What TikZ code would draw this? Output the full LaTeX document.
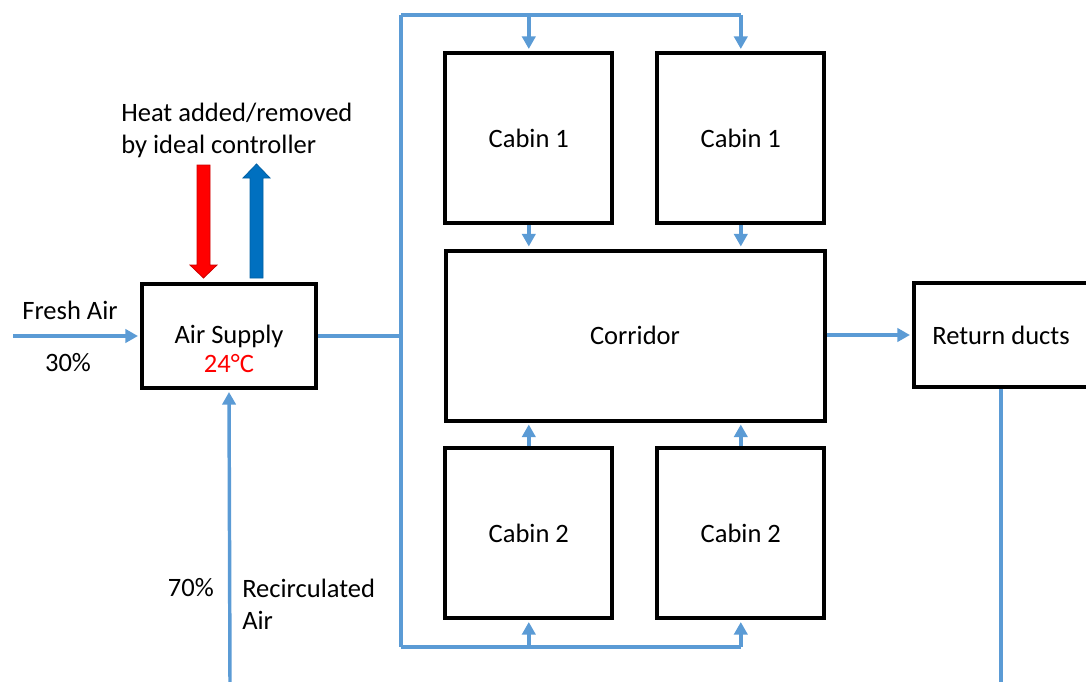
\documentclass[tikz,border=0pt]{standalone}
\usepackage{fontspec}
\setmainfont{Carlito}
\usepackage{xcolor}
\usetikzlibrary{positioning,arrows.meta,calc}
\definecolor{duct}{HTML}{5B9BD5}
\definecolor{hot}{HTML}{FF0000}
\definecolor{cold}{HTML}{0070C0}

\begin{document}
\begin{tikzpicture}[x=0.75pt,y=-0.75pt,>={Triangle[length=9.5pt,width=10pt]},
  font={\fontsize{19.9pt}{24pt}\selectfont},
  box/.style={draw,line width=3pt,inner sep=0pt},
  unit/.style={box,minimum width=130.5pt,minimum height=78pt},
  cab/.style={box,minimum width=125.25pt,minimum height=127.5pt},
  cor/.style={box,minimum width=284.25pt,minimum height=127.5pt},
  lbl/.style={inner sep=0pt},
  pipe/.style={draw=duct,line width=2.6pt},
  flow/.style={pipe,->,shorten >=1.5pt}]
  \useasboundingbox (0,0) rectangle (1086,682);
  % air handling unit
  \node[unit] (as) at (229,336) {Air Supply};
  \node[lbl,text=hot] (temp) at (229,364) {24°C};
  \node[lbl] (fresh) at (70,310) {Fresh Air};
  \node[lbl] (pfresh) at (68,363) {30\%};
  \coordinate (fa) at (13,336);
  \draw[flow] (fa) -- (as.west);
  % controller heat in/out
  \node[lbl,align=left,anchor=west] (heat) at (121,130) {Heat added/removed\\by ideal controller};
  \filldraw[fill=hot,draw=hot!80!black,line width=0.6pt]
    (197,165) -- (210,165) -- (210,265) -- (217,265) -- (203.5,278) -- (190,265) -- (197,265) -- cycle;
  \filldraw[fill=cold,draw=cold!85!black,line width=0.6pt]
    (250,278) -- (263,278) -- (263,178) -- (270,178) -- (256.5,164) -- (243,178) -- (250,178) -- cycle;
  % recirculation
  \coordinate (rc) at (230,682);
  \draw[flow] (rc) -- (as.south);
  \node[lbl,anchor=east] (precirc) at (214,588) {70\%};
  \node[lbl,align=left,anchor=west] (recirc) at (242,604) {Recirculated\\Air};
  % cabins and corridor
  \node[cab] (c1a) at (528.8,138) {Cabin 1};
  \node[cab] (c1b) at (740.8,138) {Cabin 1};
  \node[cor] (corr) at (635,335.5) {Corridor};
  \node[cab] (c2a) at (528.8,533) {Cabin 2};
  \node[cab] (c2b) at (740.8,533) {Cabin 2};
  % supply bus
  \coordinate (bt) at (401,15);
  \coordinate (bb) at (401,647);
  \draw[pipe] (as.east) -- (as.east -| bt);
  \draw[pipe] (bt) -- (bb);
  \draw[pipe] (bt) -- (bt -| c1b.north);
  \draw[pipe] (bb) -- (bb -| c2b.south);
  \draw[flow] (bt -| c1a.north) -- (c1a.north);
  \draw[flow] (bt -| c1b.north) -- (c1b.north);
  \draw[flow] (bb -| c2a.south) -- (c2a.south);
  \draw[flow] (bb -| c2b.south) -- (c2b.south);
  % cabins into corridor
  \draw[flow] (c1a.south) -- (c1a.south |- corr.north);
  \draw[flow] (c1b.south) -- (c1b.south |- corr.north);
  \draw[flow] (c2a.north) -- (c2a.north |- corr.south);
  \draw[flow] (c2b.north) -- (c2b.north |- corr.south);
  % return
  \node[unit] (rd) at (1001,335) {Return ducts};
  \draw[flow] (corr.east |- rd.west) -- (rd.west);
  \coordinate (re) at (1001,682);
  \draw[pipe] (rd.south) -- (re);
\end{tikzpicture}
\end{document}
